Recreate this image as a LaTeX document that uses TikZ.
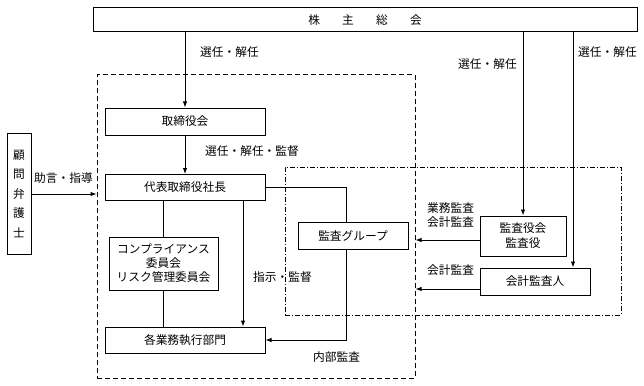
\documentclass[tikz,border=0pt]{standalone}
\usepackage{fontspec}
\setmainfont{Noto Sans CJK JP}
\usetikzlibrary{arrows.meta}
\begin{document}
\begin{tikzpicture}[x=1pt, y=-1pt,
  font=\fontsize{11.7}{14}\selectfont,
  box/.style={draw, rectangle, align=center, line width=1pt, inner sep=1pt},
  arr/.style={-{Latex[length=6pt,width=4.5pt]}, line width=1pt},
  conn/.style={line width=1pt},
  lbl/.style={anchor=west, inner sep=0pt, align=left}]
\useasboundingbox (0,0) rectangle (644,385);
% groups
\node[draw, dashed, dash pattern=on 5pt off 3pt, line width=1pt, minimum width=318pt, minimum height=303pt] (exec) at (256,226.5) {};
\node[draw, dash pattern=on 5pt off 2pt on 1pt off 2pt, line width=1pt, minimum width=336pt, minimum height=148pt] (audit) at (453,241) {};
% boxes
\node[box, minimum width=544pt, minimum height=24pt] (kabu) at (365,20) {株\hspace{1.9em}主\hspace{1.9em}総\hspace{1.9em}会};
\node[box, fill=white, minimum width=160pt, minimum height=27pt] (tori) at (185,121.5) {取締役会};
\node[box, fill=white, minimum width=160pt, minimum height=26pt] (daihyo) at (185,187.5) {代表取締役社長};
\node[box, minimum width=109pt, minimum height=53pt, font=\fontsize{11.7}{14}\selectfont] (comp) at (163.5,263.5) {コンプライアンス\\委員会\\リスク管理委員会};
\node[box, minimum width=160pt, minimum height=26pt] (gyomu) at (185,340) {各業務執行部門};
\node[box, minimum width=24pt, minimum height=121pt, font=\fontsize{11.7}{19.5}\selectfont] (komon) at (19,194) {顧\\問\\弁\\護\\士};
\node[box, fill=white, minimum width=110pt, minimum height=27pt] (kgroup) at (353,235.5) {監査グループ};
\node[box, minimum width=86pt, minimum height=40pt, font=\fontsize{11.7}{15}\selectfont] (kansa) at (523,236) {監査役会\\監査役};
\node[box, minimum width=110pt, minimum height=27pt] (kaikei) at (535,281.5) {会計監査人};
% connectors
\draw[arr] (kabu.south -| tori.north) -- (tori.north);
\draw[arr] (tori.south) -- (daihyo.north);
\draw[arr] (komon.east) -- (komon.east -| exec.west);
\draw[conn] (daihyo.east) -| ([xshift=-7pt]kgroup.north);
\draw[arr] ([xshift=-7pt]kgroup.south) |- (gyomu.east);
\draw[conn] (daihyo.south -| comp.north) -- (comp.north);
\draw[conn] (comp.south) -- (comp.south |- gyomu.north);
\draw[arr] ([xshift=58pt]daihyo.south) -- ([xshift=58pt]gyomu.north);
\draw[arr] ([yshift=-4pt]kansa.west) -- ([yshift=-4pt]kansa.west -| exec.east);
\draw[arr] ([yshift=-7.5pt]kaikei.west) -- ([yshift=-7.5pt]kaikei.west -| exec.east);
\draw[arr] (kabu.south -| kansa.north) -- (kansa.north);
\draw[arr] ([xshift=38pt]kaikei.north |- kabu.south) -- ([xshift=38pt]kaikei.north);
% labels
\node[lbl] (l1) at (200,52) {選任・解任};
\node[lbl] (l2) at (205,151) {選任・解任・監督};
\node[lbl] (l3) at (34,178) {助言・指導};
\node[lbl] (l4) at (253,277) {指示・監督};
\node[lbl] (l5) at (313,357) {内部監査};
\node[lbl] (l6) at (427,215) {業務監査\\会計監査};
\node[lbl] (l7) at (427,270) {会計監査};
\node[lbl] (l8) at (458,64) {選任・解任};
\node[lbl] (l9) at (578,52) {選任・解任};
\end{tikzpicture}
\end{document}
